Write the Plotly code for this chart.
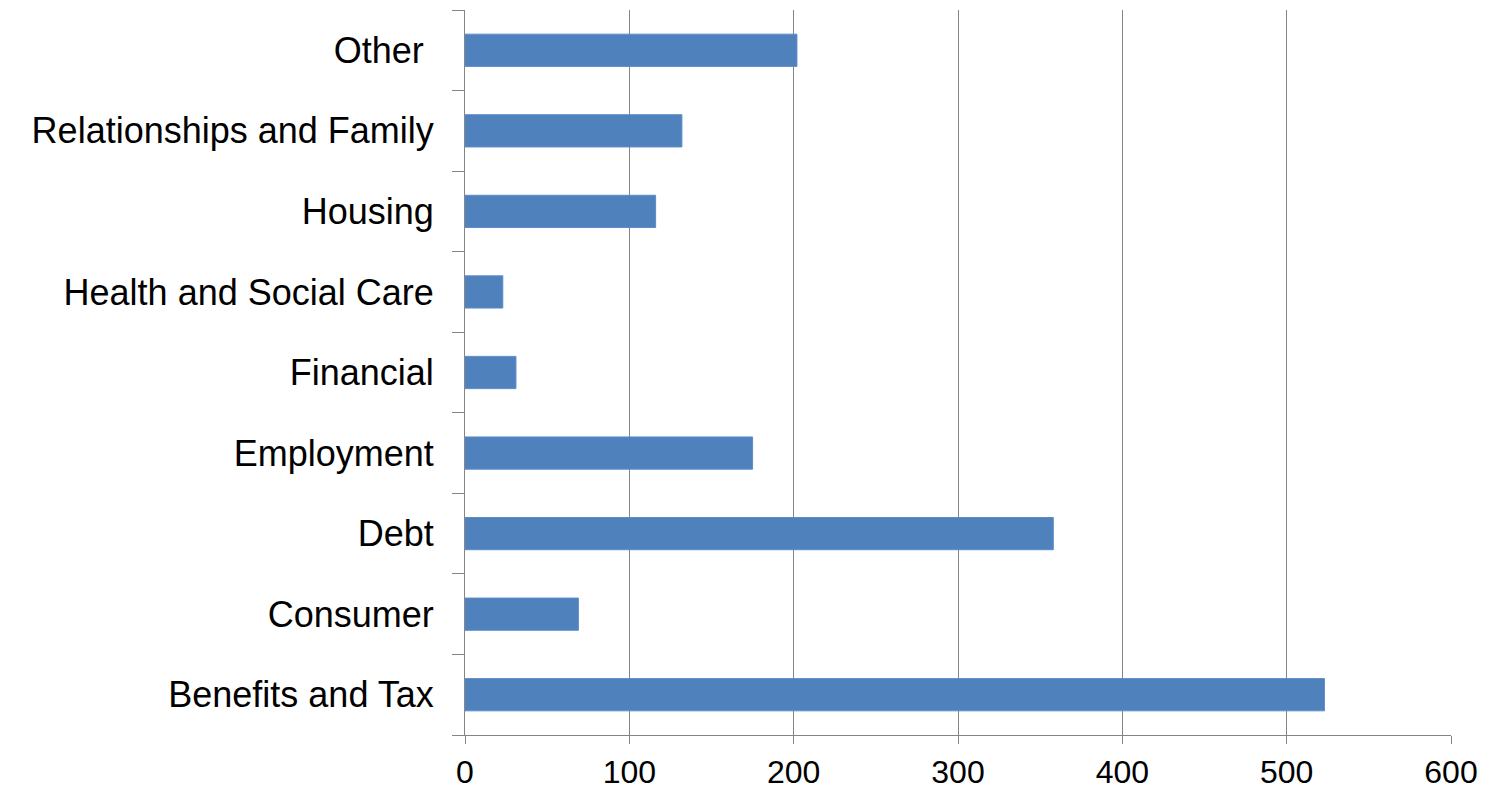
import plotly.graph_objects as go

categories = ["Benefits and Tax", "Consumer", "Debt", "Employment", "Financial",
              "Health and Social Care", "Housing", "Relationships and Family", "Other\u00a0"]
values = [523, 69, 358, 175, 31, 23, 116, 132, 202]
x_ticks = [0, 100, 200, 300, 400, 500, 600]

fig = go.Figure(go.Bar(
    x=values, y=categories, orientation="h",
    marker=dict(color="#4F81BD", line=dict(color="#5B8CC8", width=1)),
))

fig.update_layout(
    width=1487, height=795,
    margin=dict(l=465, r=36, t=10, b=60),
    plot_bgcolor="white", paper_bgcolor="white",
    bargap=0.6,
    showlegend=False,
    font=dict(family="Liberation Sans, Arial, sans-serif", color="black"),
)
fig.update_xaxes(
    range=[0, 600], tickvals=x_ticks, ticktext=[str(v) for v in x_ticks],
    showgrid=True, gridcolor="#858585", gridwidth=1,
    showline=True, linecolor="#858585", linewidth=1,
    ticks="outside", ticklen=8, tickcolor="#858585",
    tickfont=dict(size=32), zeroline=False, ticklabelstandoff=1,
    automargin=False,
)
fig.update_yaxes(
    type="category", categoryorder="array", categoryarray=categories,
    showgrid=False, showline=True, linecolor="#858585", linewidth=1,
    ticks="outside", ticklen=12, tickcolor="#858585", tickson="boundaries",
    tickfont=dict(size=36), ticklabelstandoff=23, automargin=False,
)

fig.write_html("out.html")
